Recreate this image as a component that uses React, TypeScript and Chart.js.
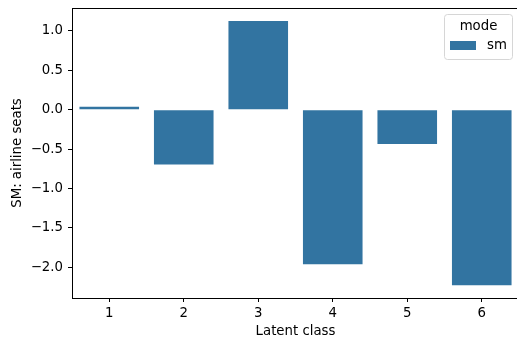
import React, { useEffect, useRef } from 'react';
import { Chart, registerables } from 'chart.js';
Chart.register(...registerables);

const categories = ['1', '2', '3', '4', '5', '6'];
const smValues = [0.038, -0.695, 1.126, -1.962, -0.435, -2.228];
const yTicks = [-2.0, -1.5, -1.0, -0.5, 0.0, 0.5, 1.0];
const seriesName = 'sm';
const legendTitle = 'mode';
const xTitle = 'Latent class';
const yTitle = 'SM: airline seats';

const BAR_COLOR = 'rgb(50,116,161)';
const FONT = 'DejaVu Sans';
const FS = 13.3;
const TEXT = '#000';

const decorPlugin = {
  id: 'decor',
  afterDraw(chart: any) {
    const { ctx, chartArea } = chart;
    const { left, right, top, bottom } = chartArea;
    ctx.save();
    // spines
    ctx.strokeStyle = '#000';
    ctx.lineWidth = 1;
    ctx.strokeRect(Math.round(left) + 0.5, Math.round(top) + 0.5, Math.round(right - left), Math.round(bottom - top));
    // axis titles
    ctx.fillStyle = TEXT;
    ctx.font = `${FS}px "${FONT}"`;
    ctx.textAlign = 'center';
    ctx.textBaseline = 'middle';
    ctx.fillText(xTitle, (left + right) / 2, 332);
    ctx.save();
    ctx.translate(18, (top + bottom) / 2);
    ctx.rotate(-Math.PI / 2);
    ctx.fillText(yTitle, 0, 0);
    ctx.restore();
    // legend
    const lx = 444.5, ly = 14.5, lw = 68, lh = 45;
    ctx.beginPath();
    const r = 3;
    ctx.moveTo(lx + r, ly);
    ctx.lineTo(lx + lw - r, ly);
    ctx.quadraticCurveTo(lx + lw, ly, lx + lw, ly + r);
    ctx.lineTo(lx + lw, ly + lh - r);
    ctx.quadraticCurveTo(lx + lw, ly + lh, lx + lw - r, ly + lh);
    ctx.lineTo(lx + r, ly + lh);
    ctx.quadraticCurveTo(lx, ly + lh, lx, ly + lh - r);
    ctx.lineTo(lx, ly + r);
    ctx.quadraticCurveTo(lx, ly, lx + r, ly);
    ctx.closePath();
    ctx.fillStyle = 'rgba(255,255,255,0.8)';
    ctx.fill();
    ctx.strokeStyle = '#d6d6d6';
    ctx.stroke();
    ctx.fillStyle = TEXT;
    ctx.textAlign = 'center';
    ctx.fillText(legendTitle, lx + lw / 2, 26.5);
    ctx.fillStyle = BAR_COLOR;
    ctx.fillRect(450, 41, 26, 9);
    ctx.fillStyle = TEXT;
    ctx.textAlign = 'left';
    ctx.fillText(seriesName, 487, 46);
    ctx.restore();
  },
};

export default function App() {
  const ref = useRef<HTMLCanvasElement>(null);
  useEffect(() => {
    document.body.style.margin = '0';
    const chart = new Chart(ref.current as HTMLCanvasElement, {
      type: 'bar',
      data: {
        labels: categories,
        datasets: [
          {
            label: seriesName,
            data: smValues,
            backgroundColor: BAR_COLOR,
            borderWidth: 0,
            categoryPercentage: 0.8,
            barPercentage: 1.0,
          },
        ],
      },
      options: {
        responsive: false,
        animation: false,
        layout: { padding: { top: 8, right: 1, left: 0, bottom: 0 } },
        plugins: { legend: { display: false }, tooltip: { enabled: false } },
        scales: {
          x: {
            type: 'category',
            offset: true,
            border: { display: false },
            grid: { display: true, drawOnChartArea: false, drawTicks: true, tickLength: 4, color: '#000', offset: false },
            ticks: { color: TEXT, font: { family: FONT, size: FS }, padding: 4, maxRotation: 0, autoSkip: false },
            afterFit: (s: any) => { s.height = 45; s.paddingLeft = 0; s.paddingRight = 0; },
          },
          y: {
            type: 'linear',
            min: -2.39,
            max: 1.29,
            border: { display: false },
            grid: { display: true, drawOnChartArea: false, drawTicks: true, tickLength: 4, color: '#000' },
            ticks: {
              color: TEXT,
              font: { family: FONT, size: FS },
              padding: 5,
              callback: (v: any) => {
                const n = Number(v);
                const s = Math.abs(n).toFixed(1);
                return n < -1e-9 ? '\u2212' + s : s;
              },
            },
            afterBuildTicks: (s: any) => { s.ticks = yTicks.map((v) => ({ value: v })); },
            afterFit: (s: any) => { s.width = 72; s.paddingTop = 0; s.paddingBottom = 0; },
          },
        },
      },
      plugins: [decorPlugin],
    });
    return () => chart.destroy();
  }, []);
  return (
    <div style={{ width: 517, height: 343, overflow: 'hidden' }}>
      <canvas ref={ref} width={520} height={343} style={{ display: 'block' }} />
    </div>
  );
}
